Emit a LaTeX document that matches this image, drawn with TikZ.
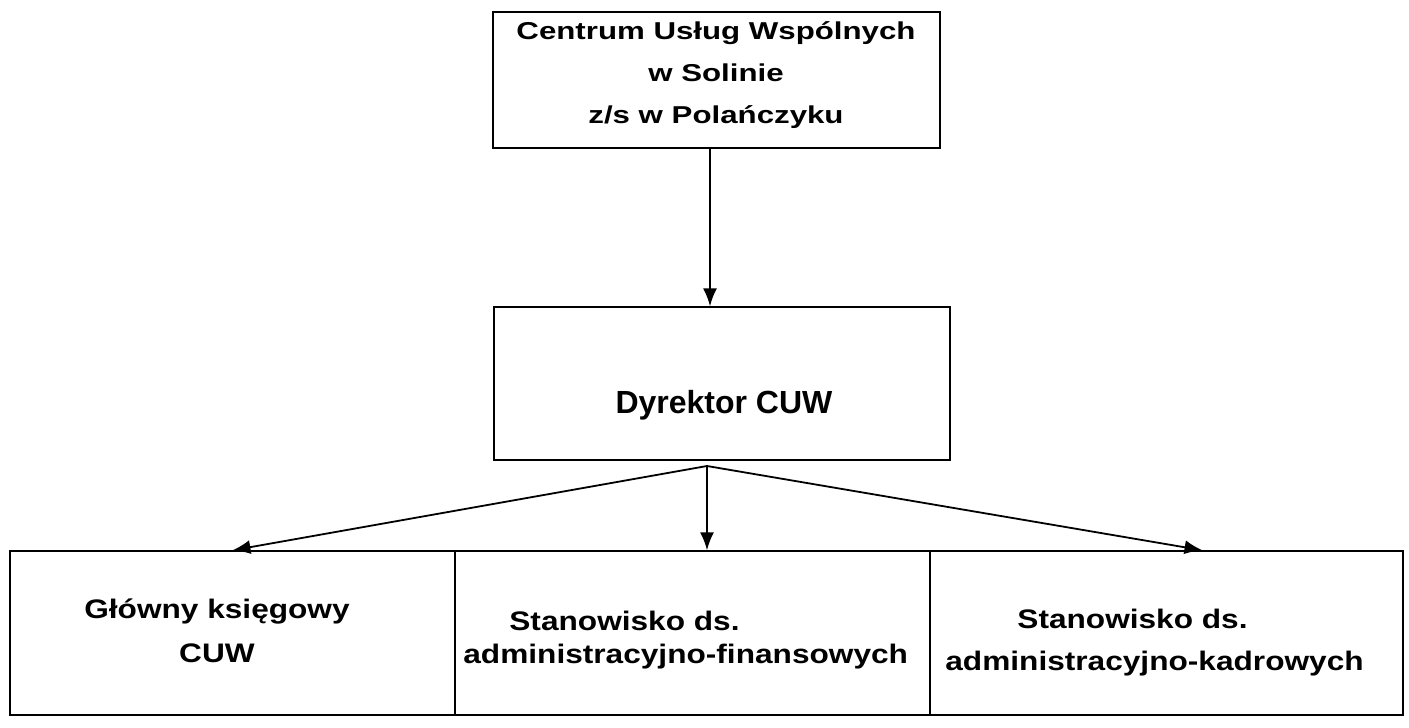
\documentclass[tikz,border=0pt]{standalone}
\usepackage{fontspec}
\setmainfont{Liberation Sans}
\newfontfamily\widefont[FakeStretch=1.28]{Liberation Sans}
\newfontfamily\lowfont[FakeStretch=1.18]{Liberation Sans}
\usetikzlibrary{arrows.meta}

\tikzset{
  unit/.style={draw, line width=0.7pt, inner sep=0pt},
  link/.style={-{Latex[length=9pt,width=7pt]}, line width=0.9pt},
  lowtext/.style={font=\lowfont\bfseries\fontsize{13.4}{#1}\selectfont, inner sep=0pt},
}

\begin{document}
\begin{tikzpicture}[x=0.5pt, y=-0.5pt]
  \useasboundingbox (0,0) rectangle (1409,728);

  % boxes
  \node[unit, minimum width=223.5pt, minimum height=68pt] (cuw) at (716.5,80) {};
  \node[unit, minimum width=228pt, minimum height=76.5pt] (dyr) at (722,383.5) {};
  \node[unit, minimum width=222.5pt, minimum height=82pt] (gk) at (232.5,633) {};
  \node[unit, minimum width=237.5pt, minimum height=82pt] (fin) at (692.5,633) {};
  \node[unit, minimum width=236.5pt, minimum height=82pt] (kad) at (1166.5,633) {};

  % texts (base = last line)
  \node[font=\widefont\bfseries\fontsize{12.2}{21}\selectfont, align=center, anchor=base] (cuwtxt) at (716,123)
    {Centrum Usług Wspólnych\\w Solinie\\z/s w Polańczyku};
  \node[font=\bfseries\fontsize{16}{19}\selectfont, anchor=base] (dyrtxt) at (724,413) {Dyrektor CUW};
  \node[lowtext=22, align=center, anchor=base] (gktxt) at (217,662)
    {Główny księgowy\\CUW};
  \node[lowtext=16.5, align=left, anchor=base west] (fintxt) at (463,663)
    {\hspace*{23pt}Stanowisko ds.\\administracyjno-finansowych};
  \node[lowtext=21, align=left, anchor=base west] (kadtxt) at (945,670)
    {\hspace*{36pt}Stanowisko ds.\\administracyjno-kadrowych};

  % connectors
  \coordinate (split) at (707,466);
  \draw[link] (cuw.south -| 710,0) -- (dyr.north -| 710,0);
  \draw[link] (split) -- (gk.north);
  \draw[link] (split) -- (fin.north -| split);
  \draw[link] (split) -- ([xshift=18pt]kad.north);
\end{tikzpicture}
\end{document}
